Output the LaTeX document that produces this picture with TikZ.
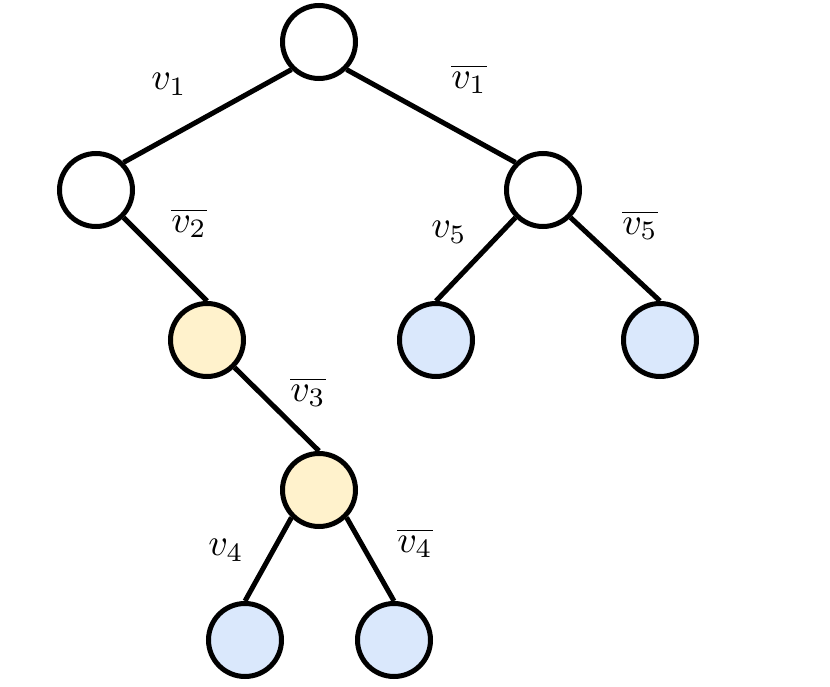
\documentclass[tikz,border=0pt]{standalone}
\usepackage{graphicx}
\usepackage{tikz}
\definecolor{yfill}{HTML}{FFF2CC}
\definecolor{bfill}{HTML}{DAE8FC}
\newcommand{\biglab}[1]{\scalebox{3.8}{$#1$}}
\tikzset{
  vert/.style={circle,draw=black,line width=5pt,minimum size=73pt,inner sep=0pt,fill=white},
  yv/.style={vert,fill=yfill},
  bv/.style={vert,fill=bfill},
  edge/.style={line width=5pt,draw=black},
  lab/.style={inner sep=0pt}
}
\begin{document}
\begin{tikzpicture}[x=1pt,y=-1pt]
\useasboundingbox (0,0) rectangle (830,687);
\node[vert] (r) at (319,42) {};
\node[vert] (l1) at (96,190) {};
\node[vert] (r1) at (543,190) {};
\node[yv] (y1) at (207,340) {};
\node[bv] (b1) at (436,340) {};
\node[bv] (b2) at (660,340) {};
\node[yv] (y2) at (319,490) {};
\node[bv] (b3) at (245,640) {};
\node[bv] (b4) at (394,640) {};
\draw[edge] (r.south west) -- (l1.north east);
\draw[edge] (r.south east) -- (r1.north west);
\draw[edge] (l1.south east) -- (y1.north);
\draw[edge] (r1.south west) -- (b1.north);
\draw[edge] (r1.south east) -- (b2.north);
\draw[edge] (y1.south east) -- (y2.north);
\draw[edge] (y2.south west) -- (b3.north);
\draw[edge] (y2.south east) -- (b4.north);
\node[lab] (t1) at (169,84) {\biglab{v_1}};
\node[lab] (t2) at (469,79) {\biglab{\overline{v_1}}};
\node[lab] (t3) at (189,223) {\biglab{\overline{v_2}}};
\node[lab] (t4) at (449,232) {\biglab{v_5}};
\node[lab] (t5) at (640,225) {\biglab{\overline{v_5}}};
\node[lab] (t6) at (308,392) {\biglab{\overline{v_3}}};
\node[lab] (t7) at (226,550) {\biglab{v_4}};
\node[lab] (t8) at (415,543) {\biglab{\overline{v_4}}};
\end{tikzpicture}
\end{document}
